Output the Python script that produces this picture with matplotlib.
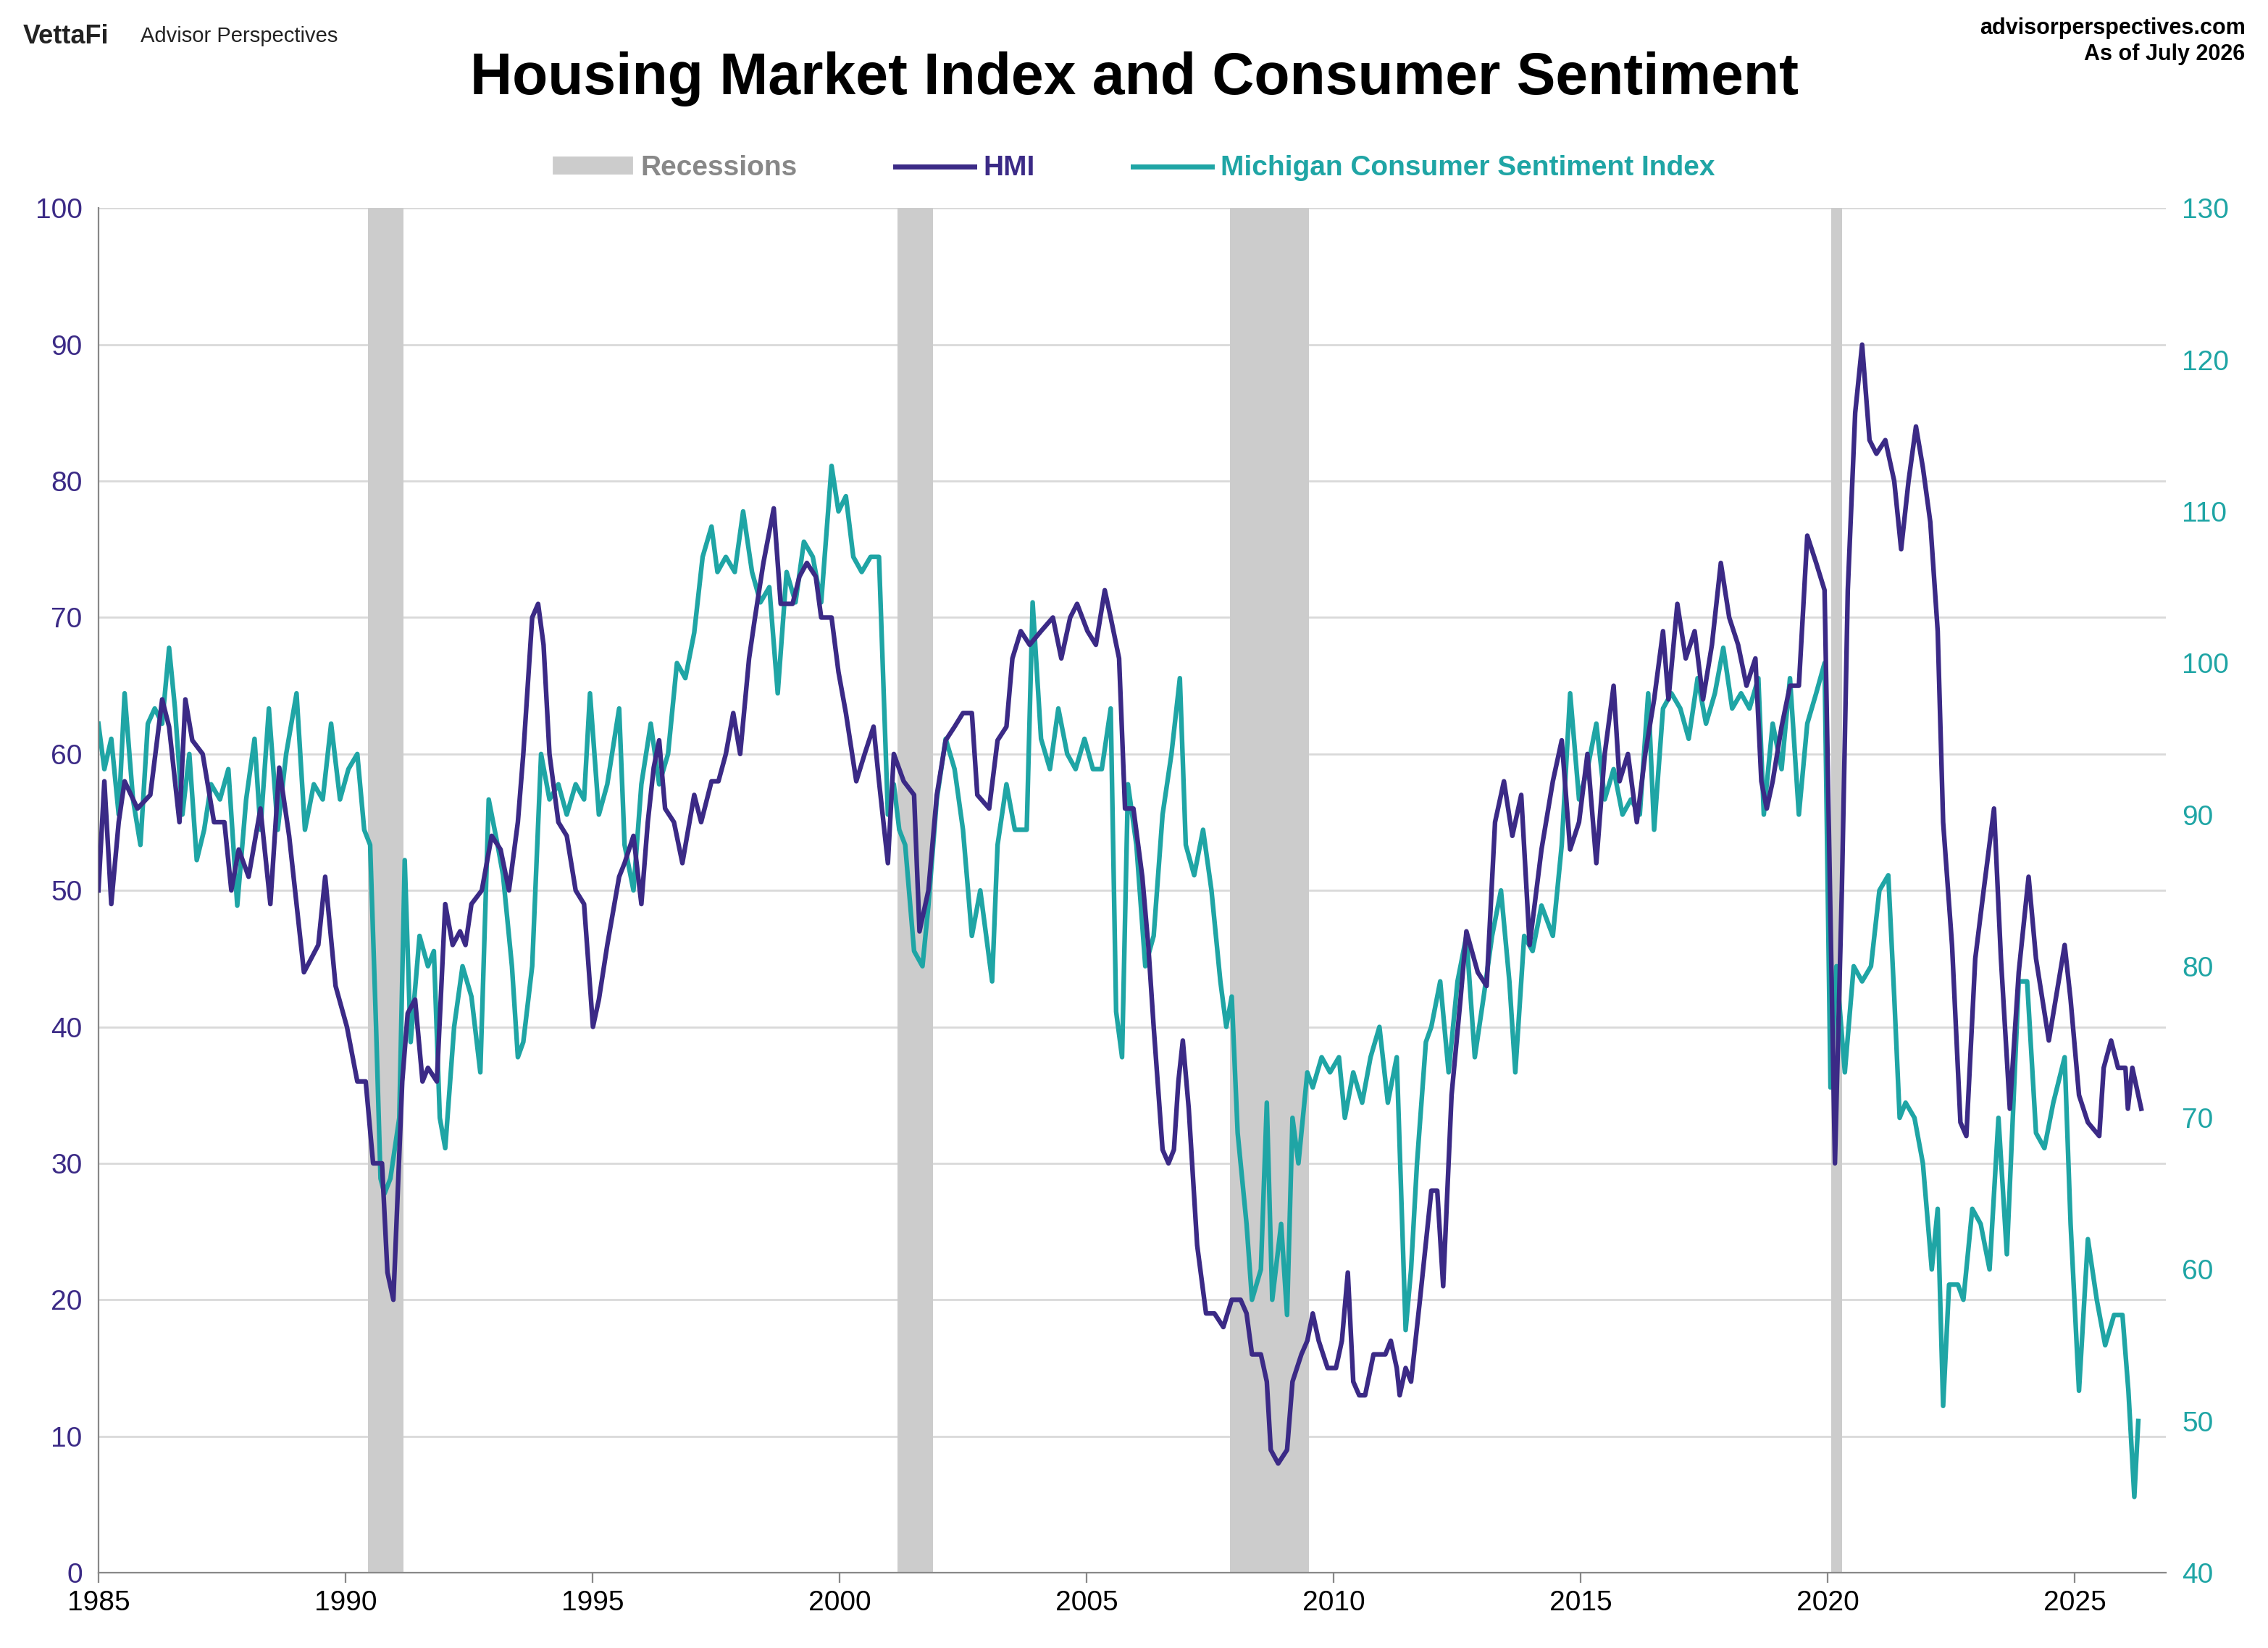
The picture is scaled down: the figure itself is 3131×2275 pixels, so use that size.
import matplotlib.pyplot as plt
from matplotlib.lines import Line2D
from matplotlib.patches import Patch

# HMI (left axis), decimal years
hmi_t = [1985.00,1985.12,1985.26,1985.41,1985.53,1985.79,1986.05,1986.29,1986.43,1986.64,1986.76,1986.90,
         1987.11,1987.34,1987.55,1987.69,1987.84,1988.04,1988.28,1988.48,1988.66,1988.86,1989.16,1989.45,
         1989.59,1989.80,1990.03,1990.24,1990.41,1990.56,1990.74,1990.85,1990.97,1991.15,1991.26,1991.41,
         1991.56,1991.67,1991.85,1992.02,1992.17,1992.32,1992.43,1992.55,1992.76,1992.96,1993.14,1993.31,
         1993.49,1993.60,1993.78,1993.90,1994.01,1994.13,1994.31,1994.48,1994.66,1994.83,1995.01,1995.13,
         1995.30,1995.54,1995.65,1995.83,1995.99,1996.12,1996.24,1996.35,1996.47,1996.65,1996.82,1997.06,
         1997.20,1997.41,1997.55,1997.70,1997.85,1997.99,1998.17,1998.29,1998.46,1998.67,1998.81,1999.05,
         1999.19,1999.34,1999.52,1999.63,1999.84,1999.98,2000.13,2000.34,2000.51,2000.69,2000.80,2000.98,
         2001.10,2001.30,2001.51,2001.62,2001.80,2001.97,2002.15,2002.33,2002.50,2002.68,2002.79,2003.03,
         2003.20,2003.38,2003.50,2003.67,2003.85,2004.08,2004.32,2004.49,2004.67,2004.81,2005.02,2005.19,
         2005.37,2005.49,2005.66,2005.78,2005.95,2006.13,2006.25,2006.36,2006.42,2006.54,2006.66,2006.77,
         2006.86,2006.95,2007.07,2007.24,2007.42,2007.59,2007.77,2007.94,2008.12,2008.24,2008.35,2008.53,
         2008.65,2008.73,2008.88,2009.06,2009.17,2009.35,2009.47,2009.58,2009.70,2009.88,2010.05,2010.17,
         2010.29,2010.40,2010.52,2010.64,2010.81,2011.05,2011.16,2011.28,2011.34,2011.46,2011.57,2011.75,
         2011.98,2012.10,2012.22,2012.39,2012.57,2012.69,2012.92,2013.10,2013.27,2013.45,2013.62,2013.80,
         2013.97,2014.21,2014.44,2014.62,2014.79,2014.97,2015.14,2015.32,2015.49,2015.67,2015.79,2015.96,
         2016.14,2016.31,2016.49,2016.67,2016.78,2016.96,2017.13,2017.31,2017.48,2017.66,2017.84,2018.01,
         2018.19,2018.36,2018.54,2018.66,2018.77,2018.89,2019.07,2019.24,2019.42,2019.59,2019.77,2019.94,
         2020.15,2020.29,2020.41,2020.56,2020.70,2020.85,2020.99,2021.17,2021.35,2021.49,2021.64,2021.79,
         2021.93,2022.08,2022.23,2022.34,2022.52,2022.69,2022.81,2022.99,2023.16,2023.37,2023.51,2023.69,
         2023.87,2024.07,2024.22,2024.48,2024.80,2024.92,2025.09,2025.27,2025.50,2025.59,2025.74,2025.88,
         2026.03,2026.08,2026.17,2026.35]
hmi_v = [50,58,49,55,58,56,57,64,62,55,64,61,
         60,55,55,50,53,51,56,49,59,54,44,46,
         51,43,40,36,36,30,30,22,20,36,41,42,
         36,37,36,49,46,47,46,49,50,54,53,50,
         55,60,70,71,68,60,55,54,50,49,40,42,
         46,51,52,54,49,55,59,61,56,55,52,57,
         55,58,58,60,63,60,67,70,74,78,71,71,
         73,74,73,70,70,66,63,58,60,62,58,52,
         60,58,57,47,50,57,61,62,63,63,57,56,
         61,62,67,69,68,69,70,67,70,71,69,68,
         72,70,67,56,56,51,46,40,37,31,30,31,
         36,39,34,24,19,19,18,20,20,19,16,16,
         14,9,8,9,14,16,17,19,17,15,15,17,
         22,14,13,13,16,16,17,15,13,15,14,20,
         28,28,21,35,42,47,44,43,55,58,54,57,
         46,53,58,61,53,55,60,52,60,65,58,60,
         55,60,64,69,64,71,67,69,64,68,74,70,
         68,65,67,58,56,58,62,65,65,76,74,72,
         30,50,72,85,90,83,82,83,80,75,80,84,
         81,77,69,55,46,33,32,45,50,56,45,34,
         44,51,45,39,46,42,35,33,32,37,39,37,
         37,34,37,34]

# Michigan Consumer Sentiment (right axis), decimal years
mcs_t = [1985.00,1985.12,1985.26,1985.41,1985.53,1985.70,1985.85,1986.00,1986.14,1986.29,1986.43,1986.55,
         1986.70,1986.84,1986.99,1987.14,1987.28,1987.46,1987.63,1987.81,1987.99,1988.16,1988.28,1988.45,
         1988.63,1988.80,1989.01,1989.18,1989.36,1989.54,1989.71,1989.89,1990.06,1990.24,1990.38,1990.50,
         1990.62,1990.71,1990.79,1990.91,1991.09,1991.20,1991.32,1991.50,1991.67,1991.79,1991.91,1992.02,
         1992.20,1992.37,1992.55,1992.73,1992.90,1993.08,1993.19,1993.37,1993.49,1993.60,1993.78,1993.96,
         1994.13,1994.31,1994.48,1994.66,1994.83,1994.95,1995.13,1995.30,1995.54,1995.65,1995.83,1995.99,
         1996.18,1996.35,1996.53,1996.71,1996.88,1997.06,1997.23,1997.41,1997.53,1997.70,1997.88,1998.05,
         1998.23,1998.40,1998.58,1998.75,1998.93,1999.11,1999.28,1999.46,1999.63,1999.84,1999.98,2000.13,
         2000.28,2000.45,2000.63,2000.80,2000.98,2001.10,2001.21,2001.33,2001.51,2001.68,2001.80,2001.97,
         2002.15,2002.33,2002.50,2002.68,2002.85,2003.09,2003.20,2003.38,2003.55,2003.79,2003.91,2004.08,
         2004.26,2004.43,2004.61,2004.78,2004.96,2005.13,2005.31,2005.49,2005.60,2005.72,2005.84,2006.01,
         2006.19,2006.36,2006.54,2006.72,2006.89,2007.01,2007.18,2007.36,2007.53,2007.71,2007.83,2007.94,
         2008.06,2008.24,2008.35,2008.53,2008.65,2008.76,2008.94,2009.06,2009.17,2009.29,2009.47,2009.58,
         2009.76,2009.93,2010.11,2010.23,2010.40,2010.58,2010.75,2010.93,2011.10,2011.28,2011.46,2011.57,
         2011.69,2011.87,2011.98,2012.16,2012.33,2012.51,2012.69,2012.86,2013.04,2013.21,2013.39,2013.56,
         2013.68,2013.86,2014.03,2014.21,2014.44,2014.62,2014.79,2014.97,2015.14,2015.32,2015.49,2015.67,
         2015.85,2016.02,2016.20,2016.37,2016.49,2016.67,2016.84,2017.02,2017.19,2017.37,2017.54,2017.72,
         2017.89,2018.07,2018.25,2018.42,2018.60,2018.71,2018.89,2019.07,2019.24,2019.42,2019.59,2019.77,
         2019.94,2020.06,2020.18,2020.35,2020.53,2020.70,2020.88,2021.05,2021.23,2021.35,2021.46,2021.58,
         2021.76,2021.93,2022.11,2022.23,2022.34,2022.46,2022.64,2022.75,2022.93,2023.10,2023.28,2023.46,
         2023.63,2023.87,2024.04,2024.22,2024.39,2024.57,2024.80,2024.92,2025.09,2025.27,2025.45,2025.62,
         2025.80,2025.97,2026.09,2026.21,2026.29]
mcs_v = [96,93,95,90,98,91,88,96,97,96,101,97,
         90,94,87,89,92,91,93,84,91,95,89,97,
         89,94,98,89,92,91,96,91,93,94,89,88,
         76,66,65,66,70,87,75,82,80,81,70,68,
         76,80,78,73,91,88,86,80,74,75,80,94,
         91,92,90,92,91,98,90,92,97,88,85,92,
         96,92,94,100,99,102,107,109,106,107,106,110,
         106,104,105,98,106,104,108,107,104,113,110,111,
         107,106,107,107,90,92,89,88,81,80,84,91,
         95,93,89,82,85,79,88,92,89,89,104,95,
         93,97,94,93,95,93,93,97,77,74,92,88,
         80,82,90,94,99,88,86,89,85,79,76,78,
         69,63,58,60,71,58,63,57,70,67,73,72,
         74,73,74,70,73,71,74,76,71,74,56,60,
         67,75,76,79,73,79,82,74,78,82,85,79,
         73,82,81,84,82,88,98,91,93,96,91,93,
         90,91,90,98,89,97,98,97,95,99,96,98,
         101,97,98,97,99,90,96,93,99,90,96,98,
         100,72,80,73,80,79,80,85,86,78,70,71,
         70,67,60,64,51,59,59,58,64,63,60,70,
         61,79,79,69,68,71,74,63,52,62,58,55,
         57,57,52,45,50]

recessions = [(1990.45, 1991.17), (2001.17, 2001.9), (2007.9, 2009.5), (2020.08, 2020.3)]

purple = '#3b2a86'
teal = '#1fa5a5'

plt.rcParams['font.family'] = ['Liberation Sans', 'DejaVu Sans']
fig = plt.figure(figsize=(15.655, 11.375), dpi=200)
ax = fig.add_axes([0.0434, 0.0457, 0.9116, 0.828])
ax2 = ax.twinx()

# recessions and sentiment on the back axis, HMI on top
for a, b in recessions:
    ax2.axvspan(a, b, color='#cccccc', lw=0, zorder=0)

ax.plot(hmi_t, hmi_v, color=purple, lw=2.3, zorder=3)
ax2.plot(mcs_t, mcs_v, color=teal, lw=2.3, zorder=2)
ax.set_zorder(ax2.get_zorder() + 1)
ax.patch.set_visible(False)

ax.set_xlim(1985, 2026.85)
ax.set_ylim(0, 100)
ax2.set_ylim(40, 130)
ax.set_xticks(range(1985, 2026, 5))
ax.set_yticks(range(0, 101, 10))
ax2.set_yticks(range(40, 131, 10))
ax2.yaxis.grid(False)
for y in range(10, 101, 10):
    ax2.axhline(40 + y * 0.9, color='#d9d9d9', lw=1, zorder=-1)

ax.tick_params(axis='y', colors=purple, labelsize=14, length=0, pad=8)
ax.tick_params(axis='x', colors='black', labelsize=14, length=5, color='#888888')
ax2.tick_params(axis='y', colors=teal, labelsize=14, length=0, pad=8)
for a in (ax, ax2):
    for s in ('top', 'right'):
        a.spines[s].set_visible(False)
    a.spines['left'].set_color('#888888')
    a.spines['bottom'].set_color('#888888')
ax2.spines['left'].set_visible(False)
ax2.spines['bottom'].set_visible(False)

handles = [Patch(color='#cccccc', label='Recessions'),
           Line2D([], [], color=purple, lw=2.5, label='HMI'),
           Line2D([], [], color=teal, lw=2.5, label='Michigan Consumer Sentiment Index')]
leg = fig.legend(handles=handles, loc='center', bbox_to_anchor=(0.5, 0.898), ncol=3,
                 frameon=False, fontsize=14, handlelength=2.8, columnspacing=3.5,
                 handleheight=0.5, handletextpad=0.3)
for txt, c in zip(leg.get_texts(), ['#888888', purple, teal]):
    txt.set_color(c)
    txt.set_fontweight('bold')

fig.text(0.5, 0.952, 'Housing Market Index and Consumer Sentiment', ha='center', va='center',
         fontsize=29, fontweight='bold')
fig.text(0.010, 0.978, 'VettaFi', ha='left', va='center', fontsize=13, fontweight='bold', color='#222222')
fig.text(0.062, 0.978, 'Advisor Perspectives', ha='left', va='center', fontsize=10.5, color='#222222')
fig.text(0.990, 0.983, 'advisorperspectives.com', ha='right', va='center', fontsize=11, fontweight='bold')
fig.text(0.990, 0.967, 'As of July 2026', ha='right', va='center', fontsize=11, fontweight='bold')

fig.savefig('out.png', dpi=200)
